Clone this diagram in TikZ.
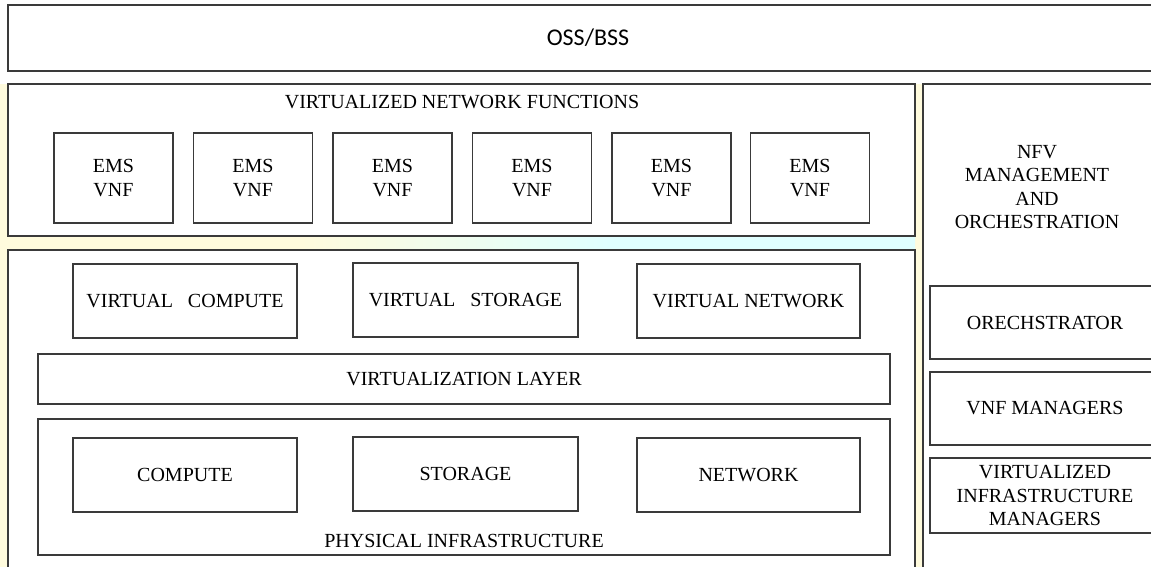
\documentclass[tikz,border=0pt]{standalone}
\usepackage{fontspec}
\setmainfont{Liberation Serif}
\newfontfamily\osfont{Carlito}
\definecolor{lineC}{HTML}{3A3A3A}
\definecolor{tintY}{HTML}{FFFBDD}
\begin{document}
\begin{tikzpicture}[x=1pt,y=-1pt,
  box/.style={draw=lineC,line width=1.3pt,fill=white,inner sep=0pt,align=center,font=\fontsize{20}{23.5}\selectfont},
  lbl/.style={inner sep=0pt,align=center,font=\fontsize{20}{23.5}\selectfont}]
\useasboundingbox (0,0) rectangle (1151,567);
\clip (0,0) rectangle (1151,567);
% faint background tint
\fill[tintY] (0,84) rectangle (1151,567);
\shade[left color=tintY,right color=cyan!12,middle color=cyan!12] (300,237) rectangle (915,250);
% OSS/BSS
\node[box,minimum width=1160pt,minimum height=66pt,font=\osfont\fontsize{24}{28}\selectfont] (oss) at (588,38) {OSS/BSS};
% VNF block
\node[box,minimum width=907pt,minimum height=152pt] (vnf) at (461.5,160) {};
\node[lbl] (vnft) at (462,102) {VIRTUALIZED NETWORK FUNCTIONS};
\foreach \i/\x in {1/113.5,2/253,3/392.5,4/532,5/671.5,6/810} {
  \node[box,minimum width=119pt,minimum height=90pt] (ems\i) at (\x,178) {EMS\\VNF};
}
% NFVI block
\node[box,minimum width=907pt,minimum height=330pt] (nfvi) at (461.5,415) {};
\node[box,minimum width=224pt,minimum height=74pt] (vc) at (185,301) {VIRTUAL\ \ \ COMPUTE};
\node[box,minimum width=225pt,minimum height=74pt] (vs) at (465.5,300) {VIRTUAL\ \ \ STORAGE};
\node[box,minimum width=223pt,minimum height=74pt] (vn) at (748.5,301) {VIRTUAL NETWORK};
\node[box,minimum width=852pt,minimum height=50pt] (vl) at (464,379) {VIRTUALIZATION LAYER};
\node[box,minimum width=852pt,minimum height=136pt] (phy) at (464,487) {};
\node[lbl] (phyt) at (464,541) {PHYSICAL INFRASTRUCTURE};
\node[box,minimum width=224pt,minimum height=74pt] (cp) at (185,475) {COMPUTE};
\node[box,minimum width=225pt,minimum height=74pt] (st) at (465.5,474) {STORAGE};
\node[box,minimum width=223pt,minimum height=74pt] (nw) at (748.5,475) {NETWORK};
% MANO column
\node[box,minimum width=240pt,minimum height=500pt] (mano) at (1043,334) {};
\node[lbl] (manot) at (1037,187) {NFV\\MANAGEMENT\\AND\\ORCHESTRATION};
\node[box,minimum width=230pt,minimum height=73pt] (orch) at (1045,322.5) {ORECHSTRATOR};
\node[box,minimum width=230pt,minimum height=73pt] (vnfm) at (1045,408.5) {VNF MANAGERS};
\node[box,minimum width=230pt,minimum height=75pt] (vim) at (1045,495.5) {VIRTUALIZED\\INFRASTRUCTURE\\MANAGERS};
\end{tikzpicture}
\end{document}
